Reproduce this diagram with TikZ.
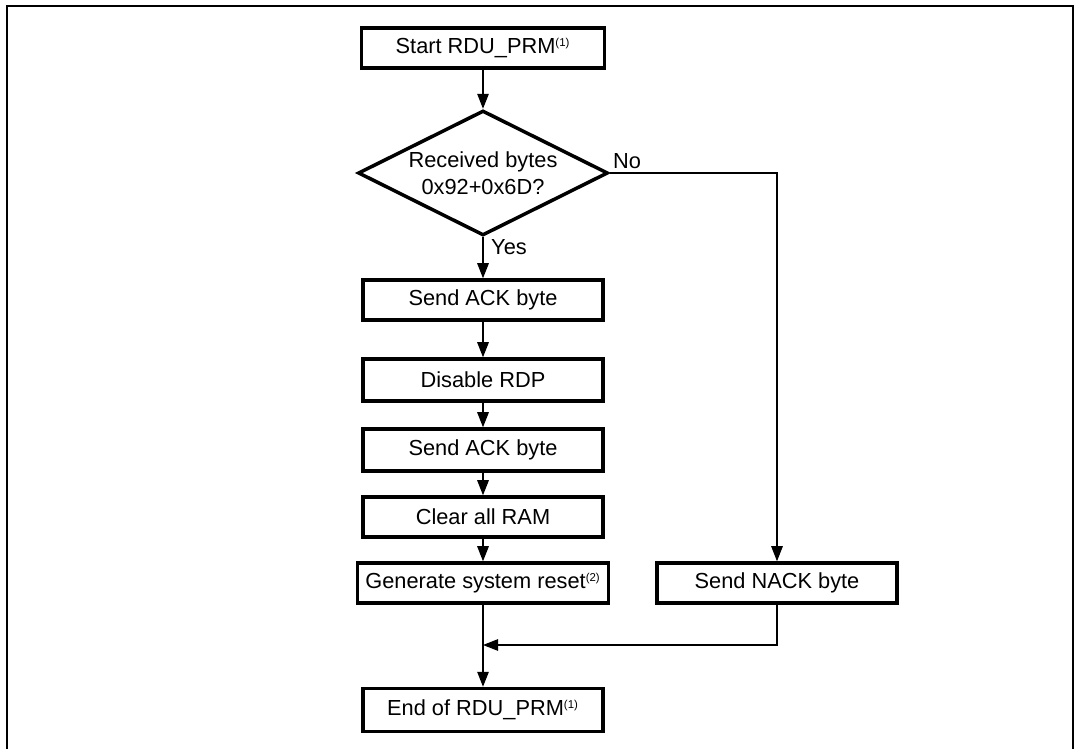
\documentclass[tikz,border=0pt]{standalone}
\usepackage{fontspec}
\setmainfont{Liberation Sans}
\usetikzlibrary{shapes.geometric,arrows.meta}
\newcommand{\fnmark}[1]{\textsuperscript{\fontsize{6.5}{6.5}\selectfont(#1)}}
\begin{document}
\begin{tikzpicture}[x=0.02cm, y=-0.02cm,
  stepbox/.style={shape=rectangle, draw=black, line width=2pt, minimum width=4.8cm, minimum height=0.8cm, inner sep=0pt, font=\fontsize{12.4}{14}\selectfont},
  testbox/.style={shape=diamond, draw=black, line width=2pt, aspect=2, minimum width=5cm, minimum height=2.5cm, inner sep=0pt, align=center, font=\fontsize{12.4}{15.5}\selectfont},
  flow/.style={-{Triangle[length=0.3cm,width=0.23cm]}, line width=0.8pt, draw=black},
  answer/.style={inner sep=0pt, font=\fontsize{12.4}{14}\selectfont}]
\useasboundingbox (0,0) rectangle (1082,749);
\draw[line width=1.2pt] (7,752) -- (7,6) -- (1073,6) -- (1073,752);
\node[stepbox, minimum width=4.86cm] (start) at (483,48) {Start RDU\_PRM\fnmark{1}};
\node[testbox] (check) at (483,173) {Received bytes\\0x92+0x6D?};
\node[stepbox] (ack1) at (483,300) {Send ACK byte};
\node[stepbox, minimum height=0.84cm] (rdp) at (483,380) {Disable RDP};
\node[stepbox, minimum height=0.84cm] (ack2) at (483,450) {Send ACK byte};
\node[stepbox] (ram) at (483,517) {Clear all RAM};
\node[stepbox, minimum width=5.02cm] (reset) at (483,583) {Generate system reset\fnmark{2}};
\node[stepbox] (nack) at (777,583) {Send NACK byte};
\node[stepbox, minimum height=0.86cm] (end) at (483,710) {End of RDU\_PRM\fnmark{1}};
\node[answer] (no) at (627,161) {No};
\node[answer] (yes) at (509,247) {Yes};
\coordinate (join) at (483,645);
\path [flow] (start) edge (check);
\path [flow] (check) edge (ack1);
\path [flow] (ack1) edge (rdp);
\path [flow] (rdp) edge (ack2);
\path [flow] (ack2) edge (ram);
\path [flow] (ram) edge (reset);
\path [flow] (reset) edge (end);
\draw [flow, line width=0.6pt] (check.east) -| (nack.north);
\draw [flow, line width=0.6pt] (nack.south) |- (join);
\end{tikzpicture}
\end{document}
